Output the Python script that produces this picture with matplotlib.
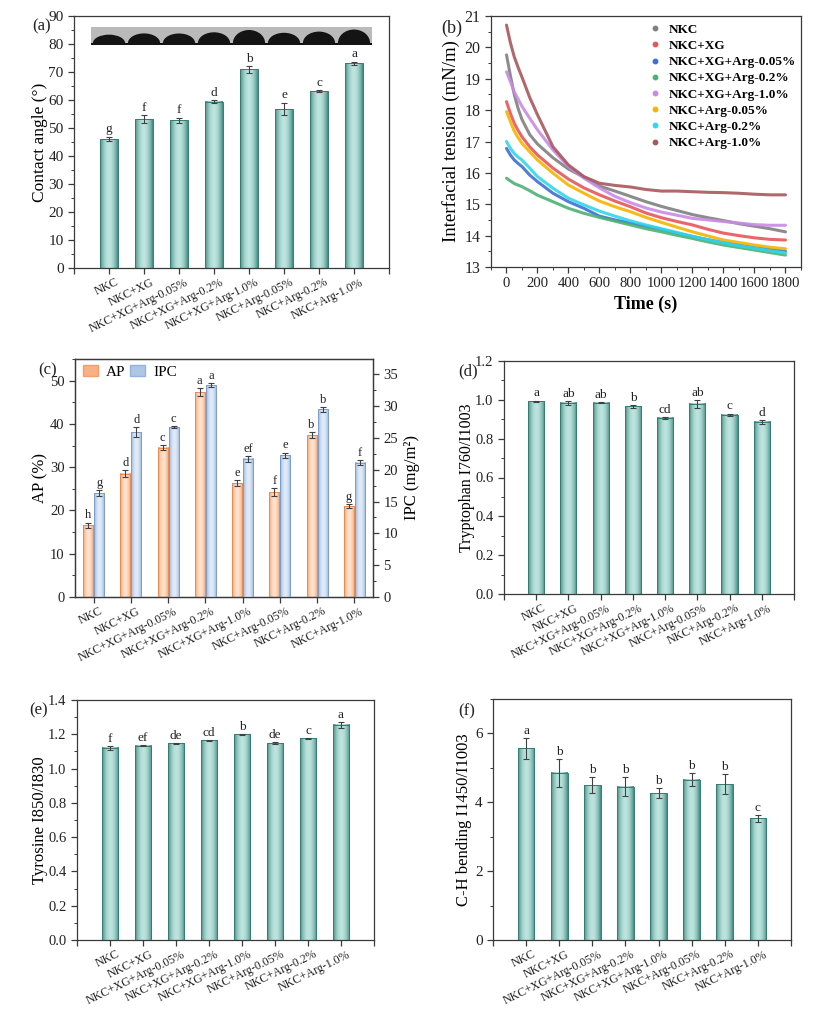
import numpy as np
import matplotlib
matplotlib.use("Agg")
import matplotlib.pyplot as plt
import matplotlib.colors as mcolors
from matplotlib.ticker import MultipleLocator, FormatStrFormatter
from matplotlib.patches import Rectangle, Ellipse, Patch
from matplotlib.lines import Line2D
from matplotlib.transforms import ScaledTranslation

plt.rcParams['font.family'] = ['Liberation Serif', 'DejaVu Serif']

# ---------------- data ----------------
categories = ['NKC', 'NKC+XG', 'NKC+XG+Arg-0.05%', 'NKC+XG+Arg-0.2%',
              'NKC+XG+Arg-1.0%', 'NKC+Arg-0.05%', 'NKC+Arg-0.2%', 'NKC+Arg-1.0%']

# (a) contact angle
contact_angle = [46.0, 53.2, 52.8, 59.4, 70.9, 56.7, 63.1, 73.1]
contact_err = [0.8, 1.3, 0.9, 0.5, 1.1, 2.2, 0.3, 0.6]
contact_letters = ['g', 'f', 'f', 'd', 'b', 'e', 'c', 'a']

# (b) interfacial tension
time_s = [0, 25, 50, 75, 100, 150, 200, 300, 400, 500, 600, 700, 800, 900, 1000,
          1100, 1200, 1300, 1400, 1500, 1600, 1700, 1800]
ift_series = {
    'NKC':              [19.76, 19.10, 18.50, 18.05, 17.70, 17.22, 16.92, 16.48, 16.12, 15.86, 15.58, 15.42, 15.25, 15.08, 14.93, 14.80, 14.67, 14.57, 14.48, 14.38, 14.30, 14.22, 14.12],
    'NKC+XG':           [18.27, 17.90, 17.58, 17.35, 17.15, 16.83, 16.57, 16.15, 15.80, 15.52, 15.30, 15.10, 14.92, 14.72, 14.57, 14.45, 14.34, 14.20, 14.08, 14.00, 13.93, 13.88, 13.86],
    'NKC+XG+Arg-0.05%': [16.78, 16.57, 16.41, 16.30, 16.20, 15.93, 15.72, 15.35, 15.08, 14.87, 14.62, 14.50, 14.40, 14.30, 14.20, 14.08, 13.97, 13.87, 13.78, 13.70, 13.62, 13.56, 13.50],
    'NKC+XG+Arg-0.2%':  [15.83, 15.74, 15.66, 15.61, 15.56, 15.43, 15.29, 15.08, 14.87, 14.71, 14.58, 14.46, 14.34, 14.22, 14.12, 14.01, 13.91, 13.80, 13.70, 13.62, 13.54, 13.46, 13.38],
    'NKC+XG+Arg-1.0%':  [19.22, 18.91, 18.58, 18.35, 18.12, 17.74, 17.37, 16.73, 16.20, 15.83, 15.52, 15.25, 15.05, 14.88, 14.75, 14.65, 14.55, 14.50, 14.45, 14.40, 14.35, 14.33, 14.33],
    'NKC+Arg-0.05%':    [17.95, 17.64, 17.33, 17.12, 16.94, 16.67, 16.41, 15.99, 15.61, 15.35, 15.10, 14.92, 14.76, 14.58, 14.42, 14.27, 14.12, 13.99, 13.86, 13.78, 13.70, 13.63, 13.58],
    'NKC+Arg-0.2%':     [17.00, 16.78, 16.62, 16.50, 16.41, 16.15, 15.88, 15.51, 15.19, 14.98, 14.78, 14.62, 14.47, 14.34, 14.22, 14.10, 13.98, 13.87, 13.77, 13.68, 13.60, 13.52, 13.45],
    'NKC+Arg-1.0%':     [20.71, 20.15, 19.70, 19.36, 19.05, 18.40, 17.85, 16.83, 16.25, 15.88, 15.67, 15.60, 15.55, 15.47, 15.42, 15.42, 15.40, 15.38, 15.37, 15.35, 15.32, 15.30, 15.30],
}
ift_colors = ['#808080', '#e8555a', '#3d6fd6', '#4db176', '#c98ae6', '#f7b400', '#2fd8e8', '#a8585c']

# (c) AP and IPC
ap_values = [16.6, 28.5, 34.5, 47.3, 26.3, 24.2, 37.4, 21.0]
ap_err = [0.6, 0.8, 0.6, 0.9, 0.7, 0.9, 0.7, 0.5]
ap_letters = ['h', 'd', 'c', 'a', 'e', 'f', 'b', 'g']
ipc_values = [16.3, 25.9, 26.7, 33.3, 21.7, 22.3, 29.5, 21.1]
ipc_err = [0.5, 0.8, 0.2, 0.3, 0.5, 0.4, 0.4, 0.4]
ipc_letters = ['g', 'd', 'c', 'a', 'ef', 'e', 'b', 'f']

# (d) tryptophan
trp_values = [0.993, 0.984, 0.986, 0.967, 0.907, 0.980, 0.924, 0.886]
trp_err = [0.003, 0.010, 0.004, 0.008, 0.004, 0.020, 0.005, 0.010]
trp_letters = ['a', 'ab', 'ab', 'b', 'cd', 'ab', 'c', 'd']

# (e) tyrosine
tyr_values = [1.122, 1.134, 1.147, 1.165, 1.200, 1.149, 1.176, 1.256]
tyr_err = [0.012, 0.004, 0.003, 0.003, 0.002, 0.004, 0.003, 0.018]
tyr_letters = ['f', 'ef', 'de', 'cd', 'b', 'de', 'c', 'a']

# (f) C-H bending
ch_values = [5.57, 4.86, 4.50, 4.45, 4.26, 4.65, 4.53, 3.54]
ch_err = [0.31, 0.41, 0.22, 0.27, 0.15, 0.19, 0.28, 0.10]
ch_letters = ['a', 'b', 'b', 'b', 'b', 'b', 'b', 'c']

# ---------------- helpers ----------------
TEAL = ('#3a877c', '#bde4df', '#357c72')
ORANGE = ('#f39558', '#fde2ce', '#ea8c50')
BLUE = ('#86aad6', '#e0ebf7', '#7b9fcd')

W, H = 828, 1024
fig = plt.figure(figsize=(W / 100, H / 100), dpi=100)


def px_axes(l, t, r, b):
    return fig.add_axes([l / W, 1 - b / H, (r - l) / W, (b - t) / H])


def grad_bar(ax, x, h, w, cols):
    dark, light, edge = cols
    u = np.linspace(0, 1, 120)
    t = np.sin(np.pi * u) ** 0.8
    c0 = np.array(mcolors.to_rgb(dark))
    c1 = np.array(mcolors.to_rgb(light))
    img = (c0[None, :] * (1 - t[:, None]) + c1[None, :] * t[:, None])[None, :, :]
    ax.imshow(img, extent=(x - w / 2, x + w / 2, 0, h), aspect='auto',
              interpolation='bilinear', zorder=2)
    ax.bar(x, h, w, facecolor='none', edgecolor=edge, linewidth=0.7, zorder=3)


def style(ax, fs):
    for s in ax.spines.values():
        s.set_linewidth(0.9)
        s.set_color('#3a3a3a')
    ax.tick_params(which='major', direction='out', length=4, width=0.9,
                   labelsize=fs, color='#3a3a3a', labelcolor='#222222')
    ax.tick_params(which='minor', direction='out', length=2.2, width=0.7, color='#3a3a3a')


def cat_xaxis(ax, xlim=(-1, 8), ends=True):
    ax.set_xlim(*xlim)
    if ends:
        ticks = list(range(-1, 9))
        labels = [''] + categories + ['']
    else:
        ticks = list(range(8))
        labels = categories
    ax.set_xticks(ticks)
    ax.set_xticklabels(labels, rotation=26, ha='right', rotation_mode='anchor', fontsize=8.6)
    ax.tick_params(axis='x', pad=2)
    off = ScaledTranslation(0.06, 0, fig.dpi_scale_trans)
    for lab in ax.get_xticklabels():
        lab.set_transform(lab.get_transform() + off)


def bar_panel(ax, vals, errs, letters, cols, dy, fs_letter=9.5):
    x = np.arange(len(vals))
    for xi, v in zip(x, vals):
        grad_bar(ax, xi, v, 0.5, cols)
    ax.errorbar(x, vals, yerr=errs, fmt='none', ecolor='#404040', elinewidth=0.8,
                capsize=2.2, capthick=0.8, zorder=4)
    for xi, v, e, l in zip(x, vals, errs, letters):
        ax.text(xi, v + e + dy, l, ha='center', va='bottom', fontsize=fs_letter, color='#222222')


def panel_label(x, y, s, fs=12):
    fig.text(x / W, 1 - y / H, s, ha='center', va='center', fontsize=fs, color='#222222')


# ---------------- (a) ----------------
axa = px_axes(74, 16, 389, 268)
bar_panel(axa, contact_angle, contact_err, contact_letters, TEAL, 0.6)
axa.set_ylim(0, 90)
axa.yaxis.set_major_locator(MultipleLocator(10))
axa.yaxis.set_minor_locator(MultipleLocator(5))
style(axa, 11)
cat_xaxis(axa)
axa.set_ylabel('Contact angle (°)', fontsize=12.5, labelpad=0)
# droplet strip
strip = Rectangle((-0.5, 79.6), 8.0, 6.5, facecolor='#bababa', edgecolor='none', zorder=2)
axa.add_patch(strip)
axa.add_patch(Rectangle((-0.5, 79.6), 8.0, 0.9, facecolor='#111111', edgecolor='none', zorder=3))
for i, ang in enumerate(contact_angle):
    hh = 0.46 * 35 / 2.8 * np.tan(np.radians(ang) / 2) + 0.6
    el = Ellipse((i, 80.3), 0.92, 2 * hh, facecolor='#141414', edgecolor='none', zorder=3)
    axa.add_patch(el)
    el.set_clip_path(strip)
panel_label(42, 26, '(a)')

# ---------------- (b) ----------------
axb = px_axes(491, 16, 801, 267)
handles = []
for (name, vals), c in zip(ift_series.items(), ift_colors):
    axb.plot(time_s, vals, color=c, lw=2.2, alpha=0.9, solid_capstyle='round',
             solid_joinstyle='round', zorder=3)
    handles.append(Line2D([], [], color=c, marker='o', ls='none', markersize=3.2))
axb.set_xlim(-100, 1900)
axb.set_ylim(13, 21)
axb.xaxis.set_major_locator(MultipleLocator(200))
axb.xaxis.set_minor_locator(MultipleLocator(100))
axb.yaxis.set_major_locator(MultipleLocator(1))
axb.yaxis.set_minor_locator(MultipleLocator(0.5))
style(axb, 11.5)
axb.tick_params(axis='x', labelsize=10.6)
axb.set_xlabel('Time (s)', fontsize=13, fontweight='bold', labelpad=4)
axb.set_ylabel('Interfacial tension (mN/m)', fontsize=13.5, labelpad=3)
axb.legend(handles, list(ift_series.keys()), loc='upper right', bbox_to_anchor=(0.985, 0.97),
           frameon=False, prop={'size': 9.5, 'weight': 'bold'}, handlelength=1.0,
           handletextpad=0.6, labelspacing=0.3, borderpad=0, borderaxespad=0)
panel_label(452, 28, '(b)', 13)

# ---------------- (c) ----------------
axc = px_axes(75, 359, 373, 597)
axc2 = axc.twinx()
xc = np.arange(8)
bw = 0.27
for xi, v in zip(xc, ap_values):
    grad_bar(axc, xi - 0.15, v, bw, ORANGE)
for xi, v in zip(xc, ipc_values):
    grad_bar(axc2, xi + 0.15, v, bw, BLUE)
axc.errorbar(xc - 0.15, ap_values, yerr=ap_err, fmt='none', ecolor='#404040', elinewidth=0.8,
             capsize=2, capthick=0.8, zorder=4)
axc2.errorbar(xc + 0.15, ipc_values, yerr=ipc_err, fmt='none', ecolor='#404040', elinewidth=0.8,
              capsize=2, capthick=0.8, zorder=4)
for xi, v, e, l in zip(xc, ap_values, ap_err, ap_letters):
    axc.text(xi - 0.15, v + e + 0.3, l, ha='center', va='bottom', fontsize=9, color='#222222')
for xi, v, e, l in zip(xc, ipc_values, ipc_err, ipc_letters):
    axc2.text(xi + 0.15, v + e + 0.2, l, ha='center', va='bottom', fontsize=9, color='#222222')
axc.set_ylim(0, 55)
axc2.set_ylim(0, 55 / 1.47)
axc.yaxis.set_major_locator(MultipleLocator(10))
axc.yaxis.set_minor_locator(MultipleLocator(5))
axc2.yaxis.set_major_locator(MultipleLocator(5))
axc2.yaxis.set_minor_locator(MultipleLocator(2.5))
style(axc, 10.5)
style(axc2, 10.5)
cat_xaxis(axc, xlim=(-0.5, 7.5), ends=False)
axc2.set_xlim(-0.5, 7.5)
axc.set_ylabel('AP (%)', fontsize=12, labelpad=1)
axc2.set_ylabel('IPC (mg/m²)', fontsize=12, labelpad=4)
axc2.legend([Patch(facecolor='#f8b084', edgecolor='#f0a070'), Patch(facecolor='#adc6e6', edgecolor='#93b3db')],
            ['AP', 'IPC'], loc='upper left', bbox_to_anchor=(0.027, 0.975), ncol=2, frameon=False,
            fontsize=11, handlelength=1.0, handleheight=0.7, handletextpad=0.5, columnspacing=0.3,
            borderpad=0, borderaxespad=0)
panel_label(48, 370, '(c)')

# ---------------- (d) ----------------
axd = px_axes(504, 361, 794, 594)
bar_panel(axd, trp_values, trp_err, trp_letters, TEAL, 0.006)
axd.set_ylim(0, 1.2)
axd.yaxis.set_major_locator(MultipleLocator(0.2))
axd.yaxis.set_minor_locator(MultipleLocator(0.1))
axd.yaxis.set_major_formatter(FormatStrFormatter('%.1f'))
style(axd, 10.5)
cat_xaxis(axd)
axd.set_ylabel('Tryptophan I760/I1003', fontsize=11.5, labelpad=0)
panel_label(468, 371, '(d)')

# ---------------- (e) ----------------
axe = px_axes(77, 700, 374, 940)
bar_panel(axe, tyr_values, tyr_err, tyr_letters, TEAL, 0.006)
axe.set_ylim(0, 1.4)
axe.yaxis.set_major_locator(MultipleLocator(0.2))
axe.yaxis.set_minor_locator(MultipleLocator(0.1))
axe.yaxis.set_major_formatter(FormatStrFormatter('%.1f'))
style(axe, 10.5)
cat_xaxis(axe)
axe.set_ylabel('Tyrosine I850/I830', fontsize=12, labelpad=0)
panel_label(39, 710, '(e)')

# ---------------- (f) ----------------
axf = px_axes(493, 699, 791, 940)
bar_panel(axf, ch_values, ch_err, ch_letters, TEAL, 0.03)
axf.set_ylim(0, 7)
axf.yaxis.set_major_locator(MultipleLocator(2))
axf.yaxis.set_minor_locator(MultipleLocator(1))
style(axf, 11)
cat_xaxis(axf)
axf.set_ylabel('C-H bending I1450/I1003', fontsize=12, labelpad=2)
panel_label(467, 711, '(f)')

fig.savefig('out.png', dpi=100)
